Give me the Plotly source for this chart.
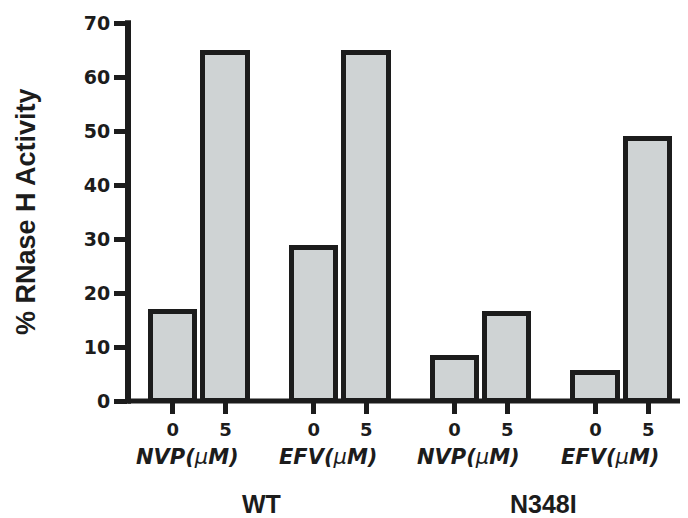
import plotly.graph_objects as go

# ---- data ----
mutants = ["WT", "N348I"]
drugs = ["NVP(μM)", "EFV(μM)", "NVP(μM)", "EFV(μM)"]
doses = ["0", "5"]
activity = [16.5, 64.4, 28.4, 64.4, 8.0, 16.1, 5.1, 48.6]
y_ticks = [0, 10, 20, 30, 40, 50, 60, 70]

# ---- layout helpers (positions on a numeric x axis) ----
GROUP_STEP = 2.675
x_pos = [g * GROUP_STEP + b for g in range(len(drugs)) for b in range(len(doses))]
tick_text = [d for _ in drugs for d in doses]

INK = "#1c1c1c"
FILL = "#cfd3d4"

fig = go.Figure(
    go.Bar(
        x=x_pos,
        y=activity,
        width=0.84,
        marker=dict(color=FILL, line=dict(color=INK, width=5)),
        hoverinfo="y",
    )
)

annotations = []
for g, drug in enumerate(drugs):
    cx = (x_pos[2 * g] + x_pos[2 * g + 1]) / 2
    name, unit = drug.split("(")
    annotations.append(dict(
        x=cx, xref="x", y=0, yref="paper", yanchor="middle", xanchor="center",
        xshift=-12, yshift=-56, showarrow=False,
        text="<b><i>" + name + "(</i></b><i>μ</i><b><i>" + unit.replace("μ", "") + "</i></b>",
        font=dict(family="DejaVu Sans", size=21, color=INK),
    ))
for m, mut in enumerate(mutants):
    xs = x_pos[4 * m: 4 * m + 4]
    annotations.append(dict(
        x=sum(xs) / len(xs), xref="x", y=0, yref="paper", yanchor="middle", xanchor="center",
        xshift=-8, yshift=-103, showarrow=False,
        text="<b>" + mut + "</b>",
        font=dict(family="Arial, Liberation Sans", size=25, color=INK),
    ))
annotations.append(dict(
    x=0, xref="paper", y=0.5, yref="paper", xanchor="center", yanchor="middle",
    xshift=-102, showarrow=False, textangle=-90,
    text="<b>% RNase H Activity</b>",
    font=dict(family="Arial, Liberation Sans", size=27, color=INK),
))

shapes = [
    dict(type="line", xref="paper", yref="paper", x0=0, x1=1, y0=0, y1=0,
         line=dict(color=INK, width=5)),
    dict(type="line", xref="paper", yref="paper", x0=0, x1=0, y0=-0.007, y1=1.007,
         line=dict(color=INK, width=6)),
]

# the page body adds an 8 px offset on the top and left, so the figure is 8 px smaller
fig.update_layout(
    width=680, height=510,
    margin=dict(l=120, r=0, t=15, b=117),
    paper_bgcolor="white", plot_bgcolor="white",
    showlegend=False, bargap=0,
    annotations=annotations, shapes=shapes,
    xaxis=dict(
        range=[-0.85, 9.78], showgrid=False, zeroline=False, showline=False,
        tickmode="array", tickvals=x_pos, ticktext=tick_text,
        ticks="outside", ticklen=12, tickwidth=5, tickcolor=INK,
        tickfont=dict(family="DejaVu Sans", size=18, color=INK, weight="bold"),
    ),
    yaxis=dict(
        range=[0, 70], showgrid=False, zeroline=False, showline=False,
        tickmode="array", tickvals=y_ticks, ticktext=[str(v) for v in y_ticks],
        ticks="outside", ticklen=13, tickwidth=5, tickcolor=INK,
        tickfont=dict(family="DejaVu Sans", size=19, color=INK, weight="bold"),
    ),
)

fig.write_html("out.html")
